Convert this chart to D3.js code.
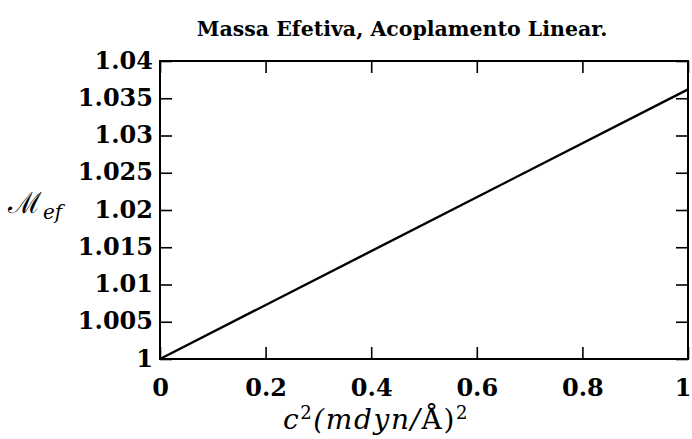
<!DOCTYPE html>
<html>
<head>
<meta charset="utf-8">
<script src="https://cdn.jsdelivr.net/npm/d3@7"></script>
<style>
  html, body { margin: 0; padding: 0; background: #fff; }
  svg { display: block; }
  .tick text { font-family: "DejaVu Serif", serif; font-weight: bold; }
</style>
</head>
<body>
<svg id="chart" width="692" height="439"></svg>
<script>
// Effective mass under linear coupling, as a function of c^2
const couplingSq = [0, 1];
const effMass = [1, 1.0362];
const xTicks = [0, 0.2, 0.4, 0.6, 0.8, 1];
const yTicks = [1, 1.005, 1.01, 1.015, 1.02, 1.025, 1.03, 1.035, 1.04];

const svg = d3.select("#chart");
const m = { left: 160, right: 4, top: 61, bottom: 80 };
const W = 692, H = 439;

const x = d3.scaleLinear().domain([0, 1]).range([m.left, W - m.right]);
const y = d3.scaleLinear().domain([1, 1.04]).range([H - m.bottom, m.top]);

const tickLen = 12;
const tickFont = 24;
const fmtY = d => d === 1 ? "1" : String(+d.toFixed(3));
const fmtX = d => (d === 0 || d === 1) ? String(d) : d.toFixed(1);

// Bottom axis with labels
svg.append("g")
  .attr("transform", `translate(0,${H - m.bottom})`)
  .call(d3.axisBottom(x).tickValues(xTicks).tickSize(-tickLen).tickPadding(20).tickFormat(fmtX))
  .call(g => g.select(".domain").remove())
  .call(g => g.selectAll("line").attr("stroke", "#000").attr("stroke-width", 1.6))
  .call(g => g.selectAll("text").attr("font-size", tickFont).attr("fill", "#000"))
  .call(g => g.selectAll(".tick").filter(d => d === 1).select("text")
    .attr("text-anchor", "end").attr("x", W - 1 - x(1)));

// Left axis with labels
svg.append("g")
  .attr("transform", `translate(${m.left},0)`)
  .call(d3.axisLeft(y).tickValues(yTicks).tickSize(-tickLen).tickPadding(7).tickFormat(fmtY))
  .call(g => g.select(".domain").remove())
  .call(g => g.selectAll("line").attr("stroke", "#000").attr("stroke-width", 1.6))
  .call(g => g.selectAll("text").attr("font-size", tickFont).attr("fill", "#000").attr("dy", "0.3em"));

// Mirrored ticks on top and right
svg.append("g")
  .attr("transform", `translate(0,${m.top})`)
  .call(d3.axisTop(x).tickValues(xTicks).tickSize(-tickLen).tickFormat(""))
  .call(g => g.select(".domain").remove())
  .call(g => g.selectAll("line").attr("stroke", "#000").attr("stroke-width", 1.6));

svg.append("g")
  .attr("transform", `translate(${W - m.right},0)`)
  .call(d3.axisRight(y).tickValues(yTicks).tickSize(-tickLen).tickFormat(""))
  .call(g => g.select(".domain").remove())
  .call(g => g.selectAll("line").attr("stroke", "#000").attr("stroke-width", 1.6));

// Frame
svg.append("rect")
  .attr("x", x(0)).attr("y", y(1.04))
  .attr("width", x(1) - x(0)).attr("height", y(1) - y(1.04))
  .attr("fill", "none").attr("stroke", "#000").attr("stroke-width", 2);

// Data line
const pts = couplingSq.map((c, i) => [c, effMass[i]]);
svg.append("path")
  .datum(pts)
  .attr("fill", "none").attr("stroke", "#000").attr("stroke-width", 2.4)
  .attr("d", d3.line().x(d => x(d[0])).y(d => y(d[1])));

// Title
svg.append("text")
  .attr("x", 402).attr("y", 36)
  .attr("text-anchor", "middle")
  .attr("font-family", "DejaVu Serif, serif").attr("font-weight", "bold")
  .attr("font-size", 20.5)
  .text("Massa Efetiva, Acoplamento Linear.");

// Y label: script M with subscript
const yl = svg.append("text")
  .attr("x", 8).attr("y", 213)
  .attr("font-family", "DejaVu Serif, serif").attr("font-size", 29);
yl.append("tspan").text("ℳ");
yl.append("tspan").attr("font-family", "DejaVu Serif, serif")
  .attr("font-style", "italic").attr("font-size", 20).attr("dy", 6).attr("dx", 1).text("ef");

// X label
const xl = svg.append("text")
  .attr("x", 376).attr("y", 429)
  .attr("text-anchor", "middle")
  .attr("letter-spacing", 1.6)
  .attr("font-family", "DejaVu Serif, serif").attr("font-size", 28).attr("font-style", "italic");
xl.append("tspan").text("c");
xl.append("tspan").attr("font-size", 18).attr("font-style", "normal").attr("dy", -10).text("2");
xl.append("tspan").attr("dy", 10).text("(mdyn/");
xl.append("tspan").attr("font-style", "normal").text("Å)");
xl.append("tspan").attr("font-size", 18).attr("font-style", "normal").attr("dy", -10).text("2");
</script>
</body>
</html>
